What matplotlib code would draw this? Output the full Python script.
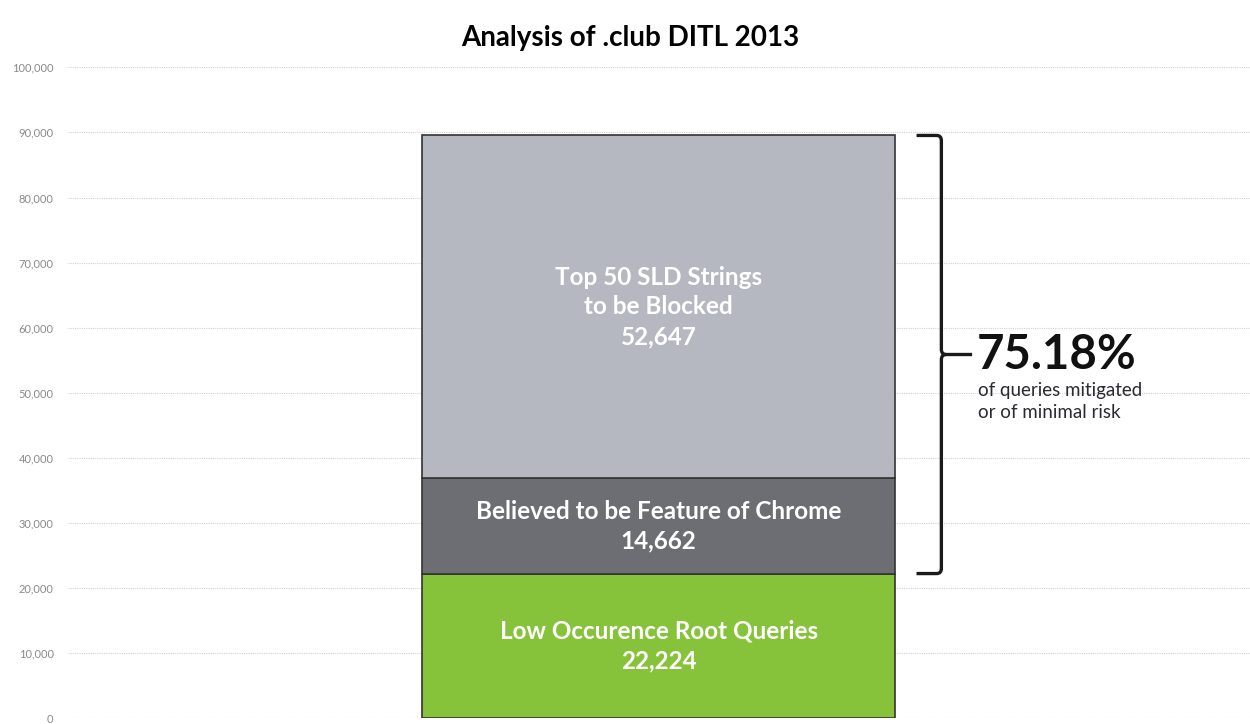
import matplotlib.pyplot as plt
from matplotlib.path import Path
from matplotlib.patches import PathPatch
import matplotlib.transforms as mtransforms
from matplotlib.ticker import FuncFormatter

# Stacked segments, bottom to top
segments = ['Low Occurence Root Queries', 'Believed to be Feature of Chrome',
            'Top 50 SLD Strings\nto be Blocked']
values = [22224, 14662, 52647]
colors = ['#86c23a', '#6d6e73', '#b5b8c1']
mitigated_pct = '75.18%'

plt.rcParams['font.family'] = ['Lato', 'DejaVu Sans']

fig = plt.figure(figsize=(12.5, 7.24), dpi=100)
ax = fig.add_axes([0.054, 0.008, 0.946, 0.899])

# Stacked bar
bottom = 0
for name, v, c in zip(segments, values, colors):
    ax.bar(0, v, bottom=bottom, width=0.4, color=c, edgecolor='#333333', linewidth=1.2, zorder=3)
    ax.text(0, bottom + v / 2, f'{name}\n{v:,}', ha='center', va='center', color='white',
            fontsize=17.5, fontweight='bold', linespacing=1.35, zorder=4)
    bottom += v

ax.set_xlim(-0.5, 0.5)
ax.set_ylim(0, 100000)
ax.set_yticks(range(0, 100001, 10000))
ax.yaxis.set_major_formatter(FuncFormatter(lambda y, p: f'{int(y):,}'))
ax.tick_params(axis='y', length=0, labelsize=8, labelcolor='#8a8a8a', pad=10)
ax.set_xticks([])
ax.grid(axis='y', color='#d2d2d2', linestyle=(0, (1, 1)), linewidth=0.8, zorder=0)
for s in ax.spines.values():
    s.set_visible(False)

fig.suptitle('Analysis of .club DITL 2013', x=0.504, y=0.966, fontsize=20, fontweight='bold')

# Curly bracket covering the two upper segments
lo = values[0]
hi = sum(values)
mid = (lo + hi) / 2
trans = mtransforms.blended_transform_factory(ax.transAxes, ax.transData)
x0, x1, x2 = 0.718, 0.739, 0.765
dx, r = 0.004, 800
verts = [(x0, hi), (x1 - dx, hi), (x1, hi), (x1, hi - r), (x1, mid + r),
         (x1, mid), (x1 + dx, mid), (x2, mid),
         (x1 + dx, mid), (x1, mid), (x1, mid - r), (x1, lo + r),
         (x1, lo), (x1 - dx, lo), (x0, lo)]
codes = [Path.MOVETO, Path.LINETO, Path.CURVE3, Path.CURVE3, Path.LINETO,
         Path.CURVE3, Path.CURVE3, Path.LINETO,
         Path.MOVETO, Path.CURVE3, Path.CURVE3, Path.LINETO,
         Path.CURVE3, Path.CURVE3, Path.LINETO]
ax.add_patch(PathPatch(Path(verts, codes), transform=trans, fill=False,
                       edgecolor='#1a1a1a', linewidth=2.4, clip_on=False, zorder=5))

ax.text(0.769, mid, mitigated_pct, transform=trans, ha='left', va='center',
        fontsize=34, color='#111111', fontweight='bold')
ax.text(0.770, mid - 4200, 'of queries mitigated\nor of minimal risk', transform=trans,
        ha='left', va='top', fontsize=13.5, color='#2a2a33', linespacing=1.35)

fig.savefig('out.png', dpi=100)
